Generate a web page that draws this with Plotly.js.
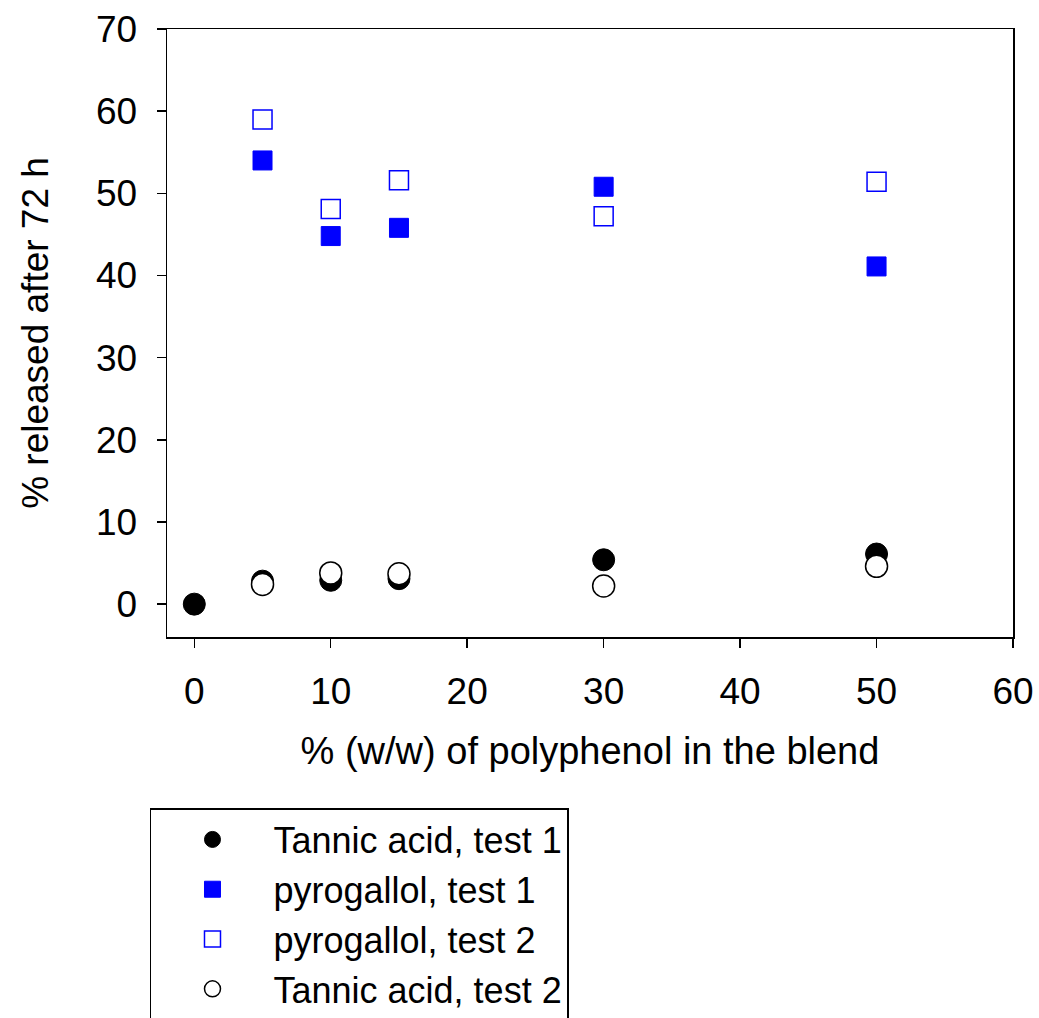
<!DOCTYPE html>
<html>
<head>
<meta charset="utf-8">
<script src="https://cdn.plot.ly/plotly-3.0.1.min.js"></script>
<style>html,body{margin:0;padding:0;background:#fff;}#chart{width:1039px;height:1018px;}</style>
</head>
<body>
<div id="chart"></div>
<script>
// x: % (w/w) of polyphenol in the blend
const tannic1X = [0, 5, 10, 15, 30, 50];
const tannic1Y = [0, 2.8, 2.9, 3.1, 5.4, 6.1];
const pyro1X = [5, 10, 15, 30, 50];
const pyro1Y = [54.0, 44.8, 45.8, 50.8, 41.1];
const pyro2X = [5, 10, 15, 30, 50];
const pyro2Y = [59.0, 48.1, 51.6, 47.2, 51.4];
const tannic2X = [5, 10, 15, 30, 50];
const tannic2Y = [2.4, 3.8, 3.7, 2.2, 4.6];
const xTicks = [0, 10, 20, 30, 40, 50, 60];
const yTicks = [0, 10, 20, 30, 40, 50, 60, 70];

const FONT = 'Arial, "Liberation Sans", Helvetica, sans-serif';

const traces = [
  {x: tannic1X, y: tannic1Y, name: 'Tannic acid, test 1', type: 'scatter', mode: 'markers',
   marker: {symbol: 'circle', size: 22, color: '#000000', line: {color: '#000000', width: 1}}},
  {x: pyro1X, y: pyro1Y, name: 'pyrogallol, test 1', type: 'scatter', mode: 'markers',
   marker: {symbol: 'square', size: 19, color: '#0000ff', line: {color: '#0000ff', width: 1}}},
  {x: pyro2X, y: pyro2Y, name: 'pyrogallol, test 2', type: 'scatter', mode: 'markers',
   marker: {symbol: 'square-open', size: 19, color: '#0000ff', line: {color: '#0000ff', width: 1.5}}},
  {x: tannic2X, y: tannic2Y, name: 'Tannic acid, test 2', type: 'scatter', mode: 'markers',
   marker: {symbol: 'circle', size: 22, color: '#ffffff', line: {color: '#000000', width: 1.5}}}
];

const layout = {
  width: 1039, height: 1018,
  margin: {l: 167, r: 26, t: 29, b: 381, autoexpand: false},
  paper_bgcolor: '#ffffff', plot_bgcolor: '#ffffff',
  font: {family: FONT, size: 37, color: '#000000'},
  showlegend: true,
  legend: {
    x: -0.0201, xanchor: 'left', y: -0.2813, yanchor: 'top',
    bgcolor: '#ffffff', bordercolor: '#000000', borderwidth: 1.5,
    font: {family: FONT, size: 36, color: '#000000'},
    itemwidth: 112, traceorder: 'normal'
  },
  xaxis: {
    range: [-2, 60], tickvals: xTicks, ticktext: xTicks.map(String),
    showgrid: false, zeroline: false, showline: true, mirror: true,
    linecolor: '#000000', linewidth: 1.5, ticks: 'outside', ticklen: 9, tickwidth: 1.5, tickcolor: '#000000',
    ticklabelstandoff: 12,
    tickfont: {family: FONT, size: 37, color: '#000000'},
    title: {text: '% (w/w) of polyphenol in the blend', font: {family: FONT, size: 38, color: '#000000'}, standoff: 26}
  },
  yaxis: {
    range: [-4, 70], tickvals: yTicks, ticktext: yTicks.map(String),
    showgrid: false, zeroline: false, showline: true, mirror: true,
    linecolor: '#000000', linewidth: 1.5, ticks: 'outside', ticklen: 9, tickwidth: 1.5, tickcolor: '#000000',
    ticklabelstandoff: 12,
    tickfont: {family: FONT, size: 37, color: '#000000'},
    title: {text: '% released after 72 h', font: {family: FONT, size: 37, color: '#000000'}, standoff: 36}
  }
};

Plotly.newPlot('chart', traces, layout, {displayModeBar: false, staticPlot: true});
</script>
</body>
</html>
